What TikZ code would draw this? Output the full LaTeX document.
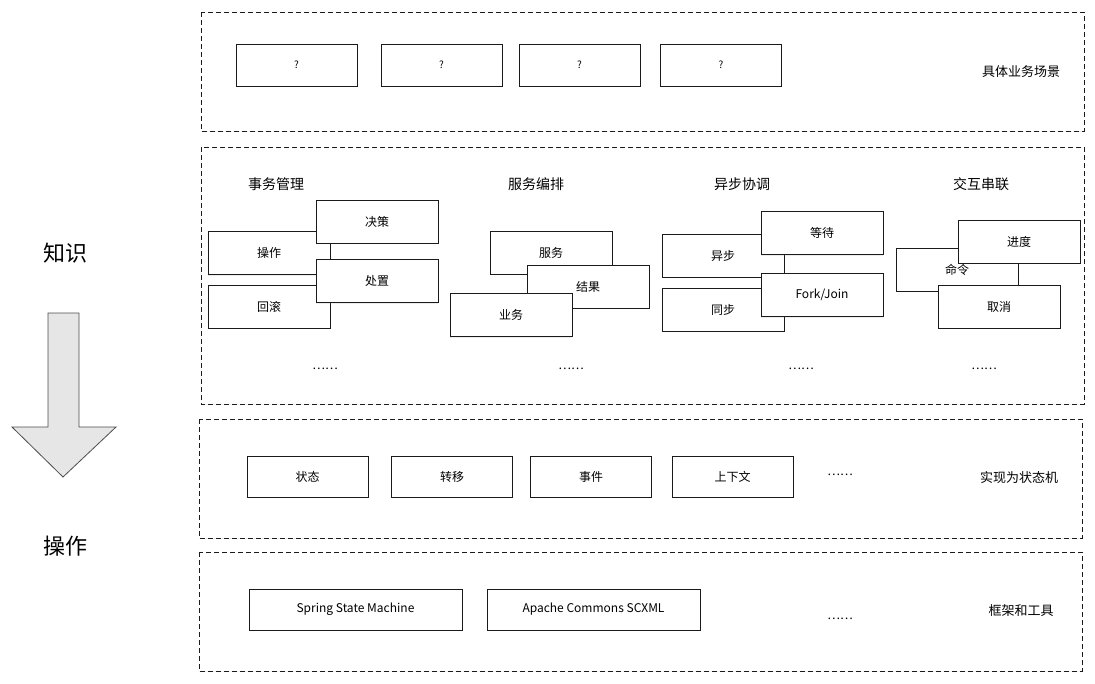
\documentclass[tikz,border=0pt]{standalone}
\usepackage{fontspec}
\setmainfont{Noto Sans CJK SC}
\usetikzlibrary{shadows}
\definecolor{edge}{HTML}{1A1A1A}
\definecolor{arrowfill}{HTML}{E6E6E6}
\begin{document}
\begin{tikzpicture}[x=1pt,y=-1pt,
  zone/.style={draw=edge, line width=0.9pt, dash pattern=on 5pt off 3pt, fill=white,
    drop shadow={shadow xshift=0pt, shadow yshift=-1.3pt, opacity=0.10}},
  box/.style={draw=edge, line width=0.9pt, fill=white, minimum width=122pt, minimum height=43pt,
    inner sep=0pt, font=\fontsize{12}{13}\selectfont,
    drop shadow={shadow xshift=0pt, shadow yshift=-1.4pt, opacity=0.14}},
  topbox/.style={box, minimum width=121pt, minimum height=42pt, font=\fontsize{10}{12}\selectfont},
  smbox/.style={box, minimum width=121pt, minimum height=41pt},
  widebox/.style={box, minimum width=213pt, minimum height=41pt, font=\fontsize{12}{13}\selectfont},
  title/.style={font=\fontsize{14}{16}\selectfont, inner sep=0pt},
  side/.style={font=\fontsize{13}{15}\selectfont, inner sep=0pt},
  big/.style={font=\fontsize{22}{24}\selectfont, inner sep=0pt},
  more/.style={font=\fontsize{12}{12}\selectfont, inner sep=0pt}]
\useasboundingbox (0,0) rectangle (1095,683);

% layer frames
\draw[zone] (201,12) rectangle (1084,131);
\draw[zone] (201,147) rectangle (1084,404);
\draw[zone] (199,419) rectangle (1082,538);
\draw[zone] (199,552) rectangle (1082,671);

% left side: knowledge to operation
\node[big] (know) at (65,253) {知识};
\node[big] (oper) at (65,546) {操作};
\filldraw[fill=arrowfill, draw=black!70, line width=0.8pt]
  (48,313) -- (79,313) -- (79,427) -- (116,427) -- (63,477) -- (12,427) -- (48,427) -- cycle;

% business scenarios
\node[topbox] (q1) at (296.5,65) {?};
\node[topbox] (q2) at (441.5,65) {?};
\node[topbox] (q3) at (579.5,65) {?};
\node[topbox] (q4) at (721,65) {?};
\node[side] (lscene) at (1021,72) {具体业务场景};

% knowledge areas
\node[title] (t1) at (276,184) {事务管理};
\node[title] (t2) at (536,184) {服务编排};
\node[title] (t3) at (742,184) {异步协调};
\node[title] (t4) at (981,184) {交互串联};

\node[box] (op) at (269,253) {操作};
\node[box] (rb) at (269,306.5) {回滚};
\node[box] (dc) at (377,221.5) {决策};
\node[box] (hd) at (377,281) {处置};

\node[box] (sv) at (551,252.5) {服务};
\node[box] (rs) at (588,286.5) {结果};
\node[box] (bz) at (511,315) {业务};

\node[box] (as) at (723,255.5) {异步};
\node[box] (sy) at (723,309.5) {同步};
\node[box] (wt) at (822,233) {等待};
\node[box] (fj) at (822,295) {Fork/Join};

\node[box] (cm) at (957,269.5) {命令};
\node[box] (pg) at (1019,241.5) {进度};
\node[box] (cc) at (999,306.5) {取消};

\node[more] (m1) at (325,369) {……};
\node[more] (m2) at (571,369) {……};
\node[more] (m3) at (801,369) {……};
\node[more] (m4) at (984,369) {……};

% state machine concepts
\node[smbox] (st) at (307.5,476.5) {状态};
\node[smbox] (tr) at (452,476.5) {转移};
\node[smbox] (ev) at (591,476.5) {事件};
\node[smbox] (cx) at (732.5,476.5) {上下文};
\node[more] (m5) at (840,475) {……};
\node[side] (lsm) at (1019,478) {实现为状态机};

% frameworks
\node[widebox] (ssm) at (355.5,609.5) {Spring State Machine};
\node[widebox] (acs) at (593.5,609.5) {Apache Commons SCXML};
\node[more] (m6) at (840,619) {……};
\node[side] (lfw) at (1021,611) {框架和工具};
\end{tikzpicture}
\end{document}
